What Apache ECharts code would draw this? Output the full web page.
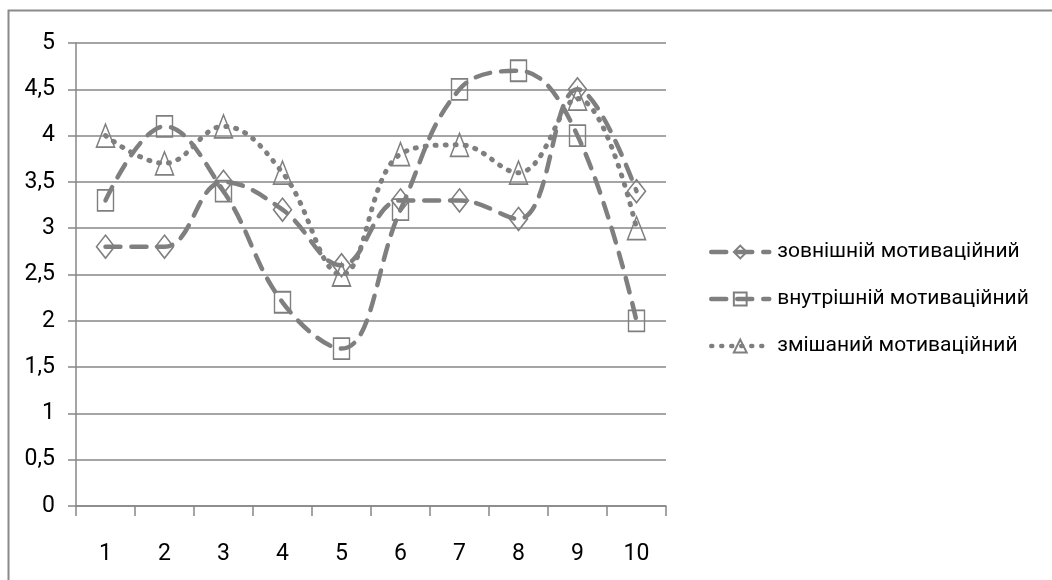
<!DOCTYPE html>
<html>
<head>
<meta charset="utf-8">
<script src="https://cdn.jsdelivr.net/npm/echarts@6/dist/echarts.min.js"></script>
<style>
  html, body { margin: 0; padding: 0; background: #fff; }
  #chart { width: 1052px; height: 580px; }
</style>
</head>
<body>
<div id="chart"></div>
<script>
// Categories (respondent groups 1..10)
const categories = ['1', '2', '3', '4', '5', '6', '7', '8', '9', '10'];

// Series values
const externalValues = [2.8, 2.8, 3.5, 3.2, 2.6, 3.3, 3.3, 3.1, 4.5, 3.4];
const internalValues = [3.3, 4.1, 3.4, 2.2, 1.7, 3.2, 4.5, 4.7, 4.0, 2.0];
const mixedValues    = [4.0, 3.7, 4.1, 3.6, 2.5, 3.8, 3.9, 3.6, 4.4, 3.0];

const seriesNames = ['зовнішній мотиваційний', 'внутрішній мотиваційний', 'змішаний мотиваційний'];

const GRAY = '#7f7f7f';
const FONT = "Roboto, 'Open Sans', sans-serif";

const chart = echarts.init(document.getElementById('chart'), null, { renderer: 'canvas' });

function lineSeries(name, data, symbol, symbolSize, lineStyle) {
  return {
    name: name,
    type: 'line',
    data: data,
    smooth: 0.4,
    symbol: symbol,
    symbolSize: symbolSize,
    showAllSymbol: true,
    itemStyle: { color: 'rgba(255,255,255,0)', borderColor: GRAY, borderWidth: 1.6 },
    lineStyle: Object.assign({ color: GRAY, cap: 'round' }, lineStyle),
    emphasis: { disabled: true },
    animation: false
  };
}

chart.setOption({
  backgroundColor: '#ffffff',
  animation: false,
  graphic: [{
    type: 'rect',
    shape: { x: 8.5, y: 10.5, width: 1100, height: 620 },
    style: { fill: 'none', stroke: '#8a8a8a', lineWidth: 2 },
    silent: true
  }],
  grid: { left: 76, right: 386, top: 43, bottom: 74, containLabel: false },
  legend: {
    orient: 'vertical',
    left: 704,
    top: 235,
    itemWidth: 58,
    itemHeight: 16,
    itemGap: 23,
    selectedMode: false,
    lineStyle: { width: 4.5, cap: 'round' },
    textStyle: {
      fontFamily: FONT,
      fontSize: 21,
      lineHeight: 24,
      color: '#000',
      padding: [0, 0, 0, 3]
    },
    data: seriesNames
  },
  xAxis: {
    type: 'category',
    data: categories,
    boundaryGap: true,
    axisLine: { show: true, lineStyle: { color: '#878787', width: 1.5 } },
    axisTick: { show: true, length: 10, alignWithLabel: false, lineStyle: { color: '#878787', width: 1.5 } },
    axisLabel: { fontFamily: FONT, fontSize: 23, color: '#000', margin: 37 },
    splitLine: { show: false }
  },
  yAxis: {
    type: 'value',
    min: 0,
    max: 5,
    interval: 0.5,
    axisLine: { show: true, lineStyle: { color: '#878787', width: 1.5 } },
    axisTick: { show: true, length: 8, lineStyle: { color: '#878787', width: 1.5 } },
    axisLabel: {
      fontFamily: FONT, fontSize: 23, color: '#000', margin: 21,
      formatter: v => String(v).replace('.', ',')
    },
    splitLine: { show: true, lineStyle: { color: '#878787', width: 1.5 } }
  },
  series: [
    lineSeries(seriesNames[0], externalValues, 'diamond', [18, 23], { width: 4.5, type: [15, 11] }),
    lineSeries(seriesNames[1], internalValues, 'rect', [16, 21], { width: 4.5, type: [15, 11] }),
    lineSeries(seriesNames[2], mixedValues, 'triangle', [18, 23], { width: 5, type: [1, 9] })
  ]
});
</script>
</body>
</html>
